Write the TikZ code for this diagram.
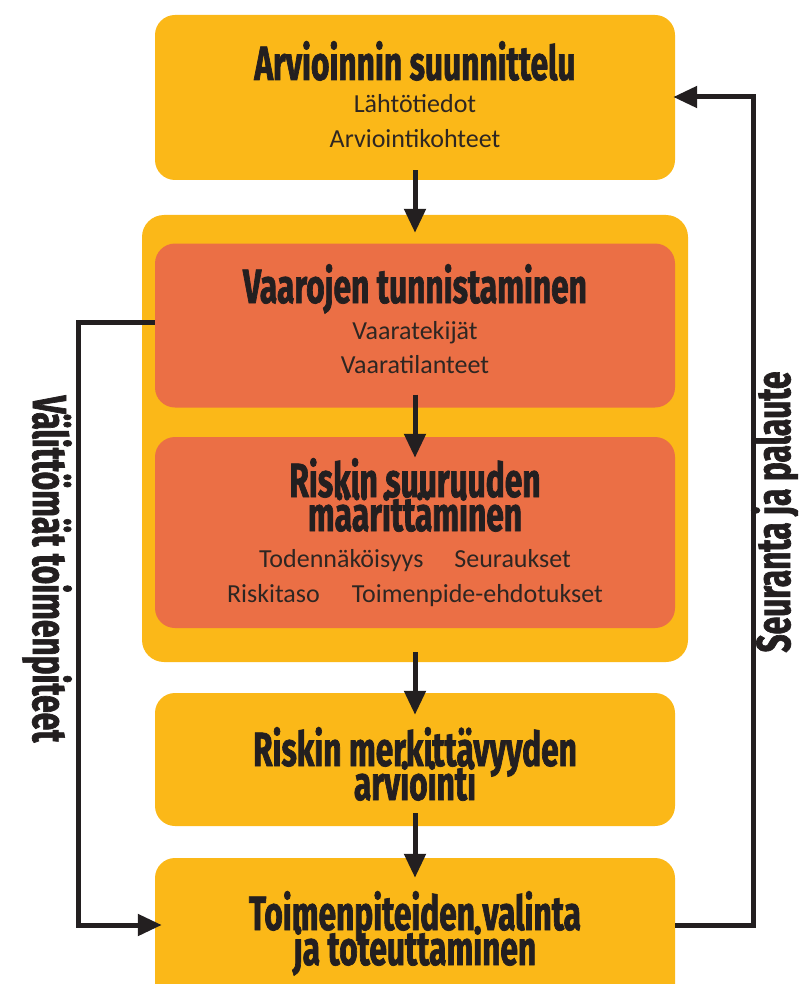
\documentclass[tikz,border=0pt]{standalone}
\usepackage{fontspec}
\setmainfont{Carlito}
\newfontfamily\headfont[FakeStretch=0.66,FakeBold=1.4]{Fira Sans}
\usetikzlibrary{arrows.meta,positioning,calc}
\definecolor{gold}{RGB}{251,184,24}
\definecolor{coral}{RGB}{235,111,69}
\definecolor{ink}{RGB}{35,31,32}
\definecolor{subink}{RGB}{46,38,34}
\tikzset{
  stage/.style={fill=gold,rounded corners=20pt,minimum width=520pt,inner sep=0pt},
  task/.style={stage,fill=coral},
  head/.style={font=\headfont\bfseries\fontsize{48}{34}\selectfont,text=ink,anchor=base,inner sep=0pt},
  sub/.style={font=\fontsize{26}{35}\selectfont,text=subink,anchor=base,inner sep=0pt},
  flow/.style={-{Triangle[length=24pt,width=21pt]},draw=ink,line width=5pt},
  loop/.style={flow,line join=miter},
}

\begin{document}
\begin{tikzpicture}[x=1pt,y=-1pt]
  \clip (0,0) rectangle (798,984);
  % boxes
  \node[stage,minimum width=546pt,minimum height=447pt,rounded corners=22pt] (core) at (415,438.5) {};
  \node[stage,minimum height=165pt] (plan) at (415,97.5) {};
  \node[task,minimum height=164pt] (hazard) at (415,325.5) {};
  \node[task,minimum height=191pt] (size) at (415,532.5) {};
  \node[stage,minimum height=133pt] (signif) at (415,759.5) {};
  \node[stage,minimum height=165pt] (action) at (415,940.5) {};
  % texts
  \node[head] (plan-t) at (415,80) {Arvioinnin suunnittelu};
  \node[sub] (plan-a) at (415,113) {Lähtötiedot};
  \node[sub] (plan-b) at (415,148) {Arviointikohteet};
  \node[head] (hazard-t) at (415,303) {Vaarojen tunnistaminen};
  \node[sub] (hazard-a) at (415,339) {Vaaratekijät};
  \node[sub] (hazard-b) at (415,373) {Vaaratilanteet};
  \node[head] (size-t) at (415,497) {Riskin suuruuden};
  \node[head] (size-u) at (415,531) {määrittäminen};
  \node[sub] (size-a) at (415,567) {Todennäköisyys\hspace{31pt}Seuraukset};
  \node[sub] (size-b) at (415,602) {Riskitaso\hspace{32pt}Toimenpide-ehdotukset};
  \node[head] (signif-t) at (415,766) {Riskin merkittävyyden};
  \node[head] (signif-u) at (415,800) {arviointi};
  \node[head] (action-t) at (415,930) {Toimenpiteiden valinta};
  \node[head] (action-u) at (415,965) {ja toteuttaminen};
  % side labels
  \node[head,anchor=center,rotate=-90] (now) at (47,569) {Välittömät toimenpiteet};
  \node[head,anchor=center,rotate=90] (follow) at (776,512) {Seuranta ja palaute};
  % arrows
  \draw[flow] ([yshift=10pt]plan.south) -- ([yshift=-18pt]core.north);
  \draw[flow] ([yshift=13pt]hazard.south) -- ([yshift=-21pt]size.north);
  \draw[flow] ([yshift=10pt]core.south) -- ([yshift=-22pt]signif.north);
  \draw[flow] ([yshift=13pt]signif.south) -- ([yshift=-20pt]action.north);
  \draw[loop] (hazard.west |- 0,322) -| (78,925) -- ([xshift=7pt]action.west |- 0,925);
  \draw[loop] (action.east |- 0,925) -| (753,97) -- ([xshift=-2pt]plan.east |- 0,97);
\end{tikzpicture}
\end{document}
